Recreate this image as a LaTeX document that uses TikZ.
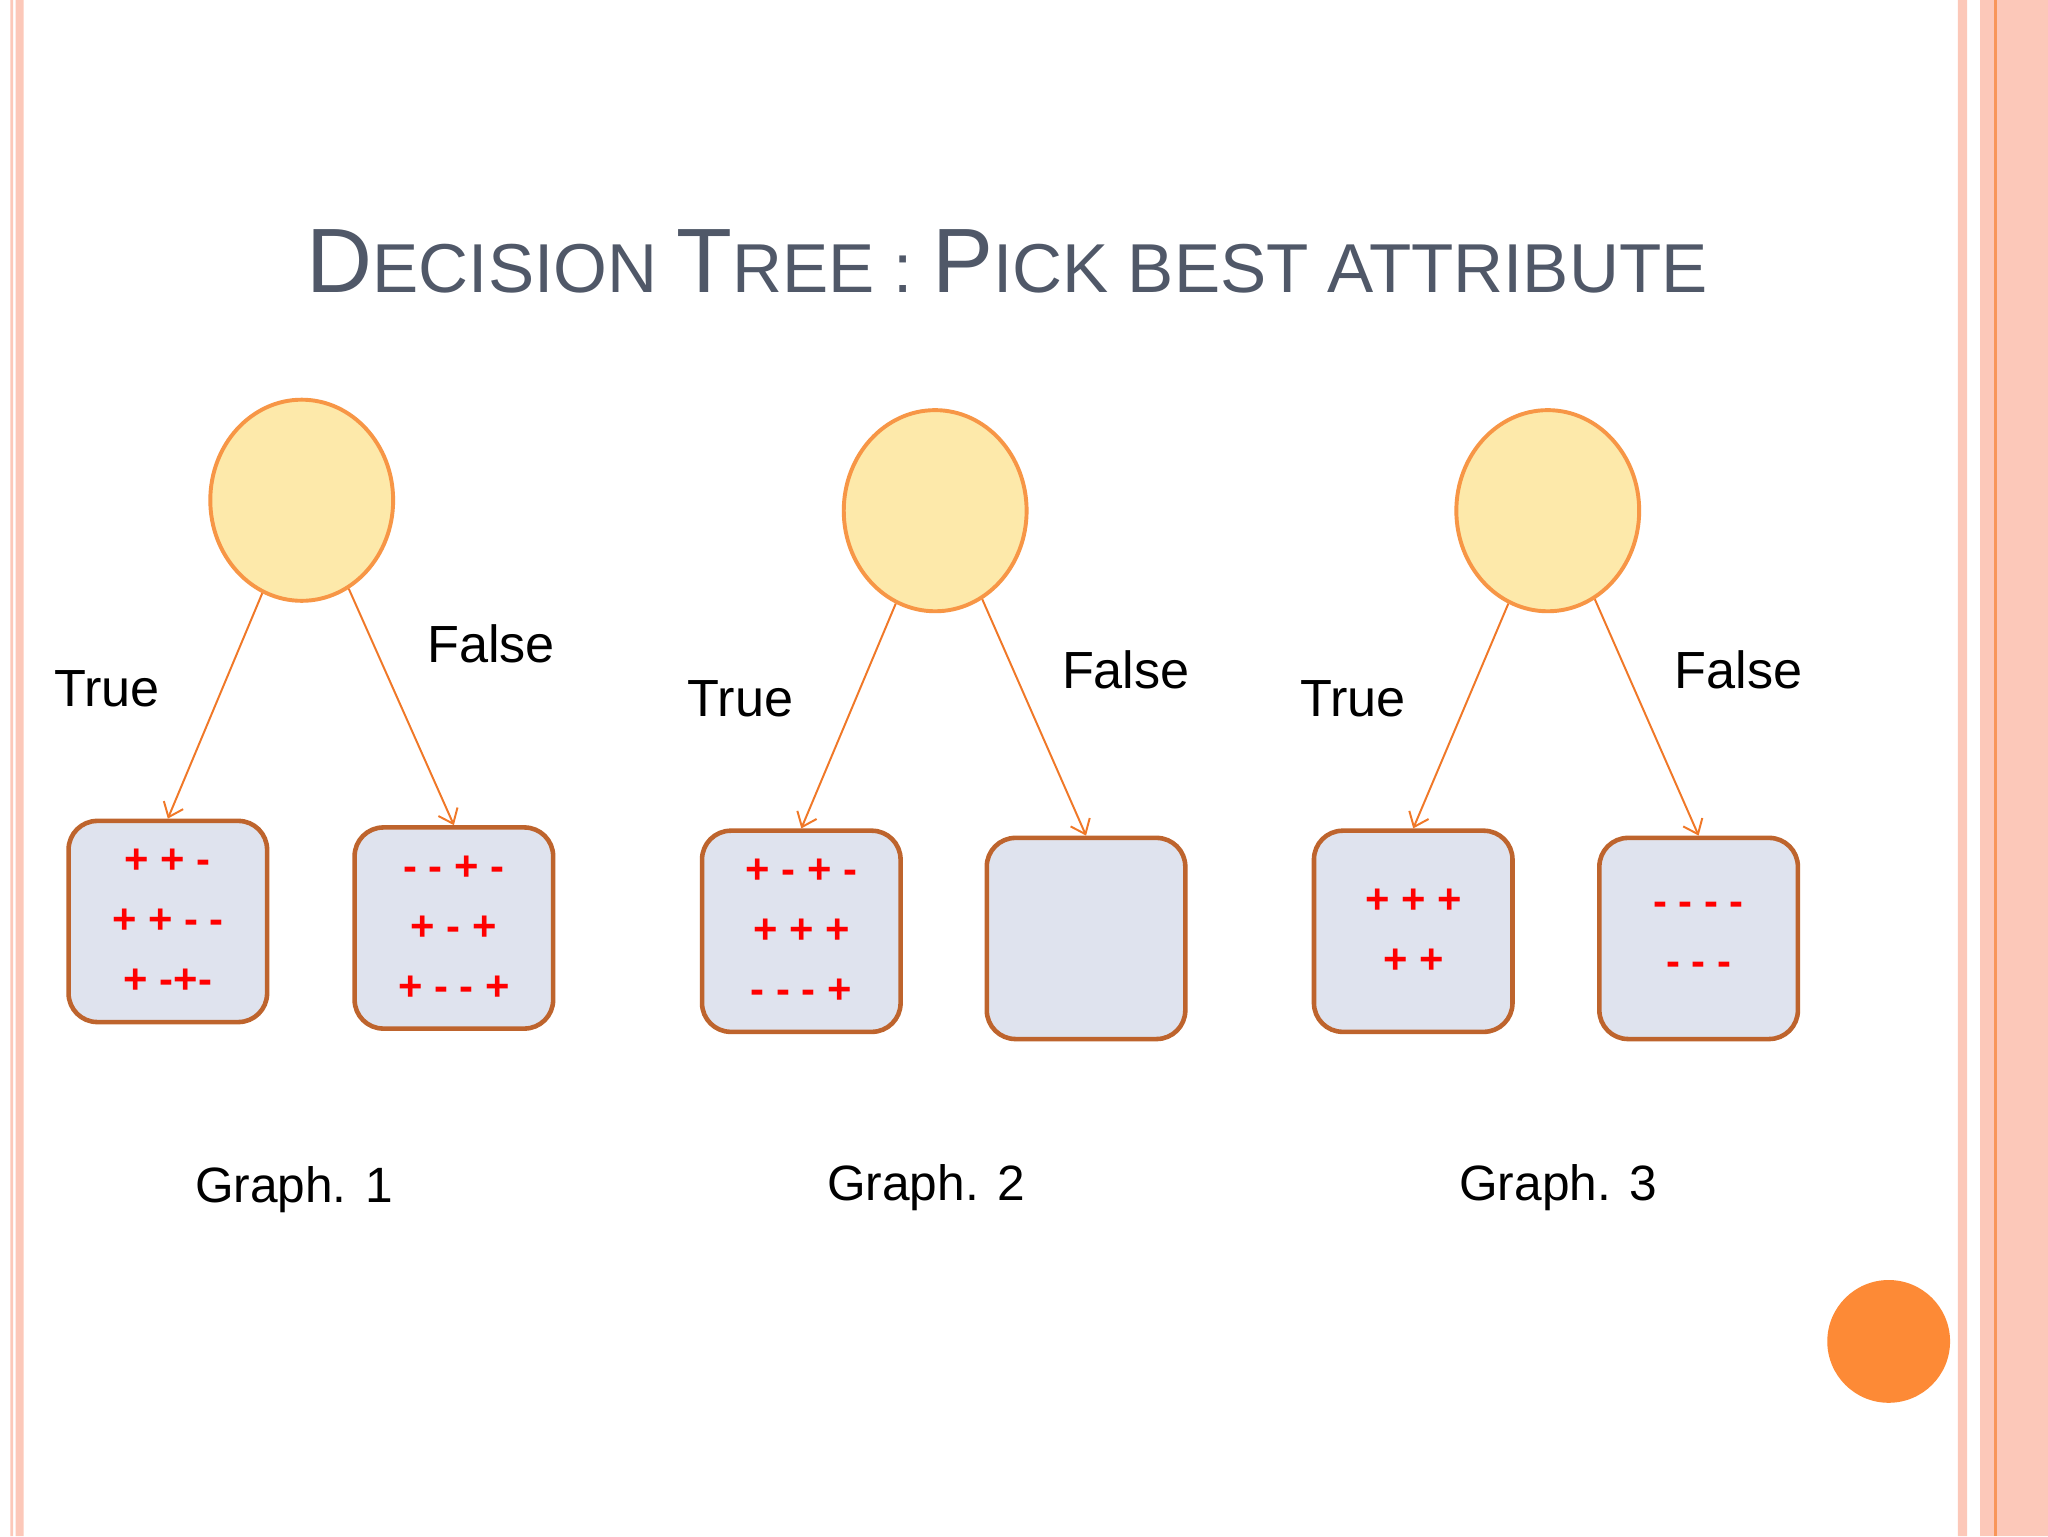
\documentclass[tikz,border=0pt]{standalone}
\usepackage{fontspec}
\setmainfont{Liberation Sans}
\usetikzlibrary{shapes.geometric,arrows.meta}
\definecolor{leaffill}{RGB}{223,227,238}
\definecolor{leafdraw}{RGB}{190,100,45}
\definecolor{rootdraw}{RGB}{247,150,70}
\definecolor{rootfill}{RGB}{253,233,170}
\definecolor{arrc}{RGB}{240,120,40}
\definecolor{stripe}{RGB}{252,200,185}
\definecolor{stripeline}{RGB}{248,150,90}
\definecolor{dotc}{RGB}{253,138,54}
\definecolor{titlec}{RGB}{80,88,104}
\begin{document}
\begin{tikzpicture}[x=1pt,y=-1pt,
 leaf/.style={draw=leafdraw,line width=3.5pt,fill=leaffill,rounded corners=22pt,minimum width=152pt,minimum height=154pt,inner sep=0pt},
 root/.style={ellipse,draw=rootdraw,line width=3pt,fill=rootfill,minimum width=140pt,minimum height=154pt},
 arr/.style={draw=arrc,line width=1.5pt,-{Straight Barb[length=10pt,width=16pt]}},
 lbl/.style={font=\fontsize{40}{44}\selectfont,text=black},
 glbl/.style={font=\fontsize{38}{40}\selectfont,text=black},
 signs/.style={text=red,font=\bfseries\fontsize{32}{46}\selectfont,align=center}]
\fill[white] (0,0) rectangle (1568,1176);
\fill[stripe] (8,0) rectangle (10,1176) (12,0) rectangle (18,1176);
\fill[stripe] (1499,0) rectangle (1506,1176) (1516,0) rectangle (1568,1176);
\fill[stripeline] (1527,0) rectangle (1529,1176);
\node[circle,fill=dotc,minimum size=94pt,inner sep=0pt] (dot) at (1446,1027) {};
\node[text=titlec] (title) at (771,200) {\fontsize{70}{80}\selectfont D\fontsize{53}{60}\selectfont ECISION \fontsize{70}{80}\selectfont T\fontsize{53}{60}\selectfont REE : \fontsize{70}{80}\selectfont P\fontsize{53}{60}\selectfont ICK BEST ATTRIBUTE};
% Graph 1
\node[root] (r1) at (231,383) {};
\node[leaf] (a1) at (128.5,705.5) {};
\node[leaf] (b1) at (347.5,710.5) {};
\node[signs] (sa1) at (a1) {+ + -\\+ + - -\\+ -+-};
\node[signs] (sb1) at (b1) {- - + -\\+ - +\\+ - - +};
\draw[arr] (r1.-113) -- (a1.north);
\draw[arr] (r1.-62) -- (b1.north);
\node[lbl] (t1) at (82,527) {True};
\node[lbl] (f1) at (376,493) {False};
\node[glbl] (g1) at (225,911) {Graph. 1};
% Graph 2
\node[root] (r2) at (716,391) {};
\node[leaf] (a2) at (613.5,713) {};
\node[leaf] (b2) at (831.5,718.5) {};
\node[signs] (sa2) at (a2) {+ - + -\\+ + +\\- - - +};
\draw[arr] (r2.-113) -- (a2.north);
\draw[arr] (r2.-62) -- (b2.north);
\node[lbl] (t2) at (567,535) {True};
\node[lbl] (f2) at (862,513) {False};
\node[glbl] (g2) at (709,909) {Graph. 2};
% Graph 3
\node[root] (r3) at (1185,391) {};
\node[leaf] (a3) at (1082,713) {};
\node[leaf] (b3) at (1300.5,718.5) {};
\node[signs] (sa3) at (a3) {+ + +\\+ +};
\node[signs] (sb3) at (b3) {- - - -\\- - -};
\draw[arr] (r3.-113) -- (a3.north);
\draw[arr] (r3.-62) -- (b3.north);
\node[lbl] (t3) at (1036,535) {True};
\node[lbl] (f3) at (1331,513) {False};
\node[glbl] (g3) at (1193,909) {Graph. 3};
\end{tikzpicture}
\end{document}
